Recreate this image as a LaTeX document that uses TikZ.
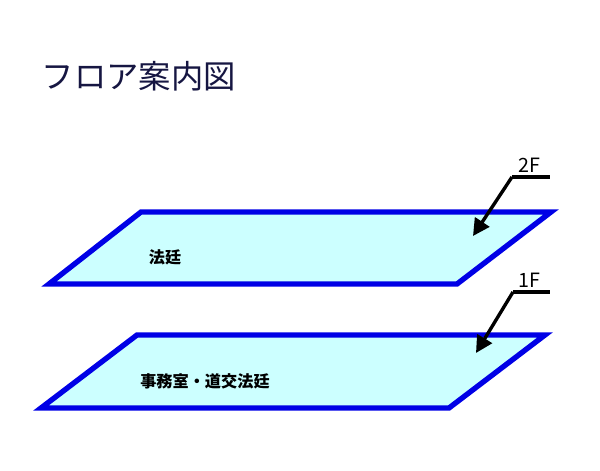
\documentclass[tikz,border=0pt]{standalone}
\usepackage{fontspec}
\newfontfamily\jpfont{Noto Sans CJK JP}
\usetikzlibrary{arrows.meta}
\definecolor{etage}{RGB}{204,255,255}
\definecolor{bord}{RGB}{0,0,230}
\definecolor{titre}{RGB}{22,22,66}

\begin{document}
\begin{tikzpicture}[x=0.025cm, y=-0.025cm, font=\jpfont,
        plancher/.style={fill=etage, draw=bord, line width=3.8pt, line join=miter},
        fleche/.style={line width=2.4pt, -{Triangle[length=12pt, width=12pt]}},
        repere/.style={line width=2.2pt},
        niveau/.style={font=\jpfont\fontsize{14}{16}\selectfont, anchor=base},
        salle/.style={font=\jpfont\bfseries\fontsize{11.5}{14}\selectfont}]
        \useasboundingbox (0,0) rectangle (600,471);

        % Titre
        \node[anchor=west, text=titre, font=\jpfont\fontsize{23}{27}\selectfont] (titre) at (37,76) {フロア案内図};

        % Planchers
        \draw[plancher] (49,284) -- (141,212) -- (551,212) -- (457,284) -- cycle;
        \draw[plancher] (41,408) -- (137,335) -- (545,335) -- (449,408) -- cycle;

        % Salles
        \node[salle] (salle2) at (165,257) {法廷};
        \node[salle] (salle1) at (205,381) {事務室・道交法廷};

        % Reperes d'etage
        \coordinate (d2) at (512,177);
        \coordinate (f2) at (550,177);
        \coordinate (p2) at (473,236);
        \node[niveau] (e2) at (529,173) {2F};
        \draw[repere] (d2) -- (f2);
        \draw[fleche] (d2) -- (p2);

        \coordinate (d1) at (513,292);
        \coordinate (f1) at (550,292);
        \coordinate (p1) at (476,353);
        \node[niveau] (e1) at (529,288) {1F};
        \draw[repere] (d1) -- (f1);
        \draw[fleche] (d1) -- (p1);
    \end{tikzpicture}
\end{document}
